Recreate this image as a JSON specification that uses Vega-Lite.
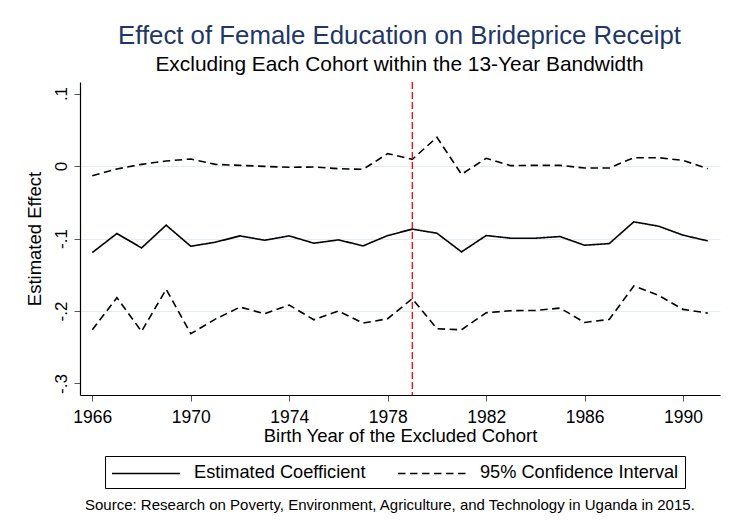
{
  "$schema": "https://vega.github.io/schema/vega-lite/v6.json",
  "background": "white",
  "autosize": {"type": "pad"},
  "padding": {"left": 25, "top": 22, "right": 9, "bottom": 4},
  "title": {
    "text": "Effect of Female Education on Brideprice Receipt",
    "subtitle": "Excluding Each Cohort within the 13-Year Bandwidth",
    "anchor": "middle",
    "frame": "bounds",
    "dx": 27,
    "font": "Liberation Sans",
    "fontSize": 25.8,
    "fontWeight": "normal",
    "color": "#1f3768",
    "subtitleFont": "Liberation Sans",
    "subtitleFontSize": 20.9,
    "subtitleColor": "black",
    "subtitlePadding": 5,
    "offset": 5
  },
  "datasets": {
    "est": [
      {"year": 1966, "coef": -0.1194, "lower": -0.2259, "upper": -0.0134},
      {"year": 1967, "coef": -0.0931, "lower": -0.1816, "upper": -0.0041},
      {"year": 1968, "coef": -0.1130, "lower": -0.2282, "upper": 0.0023},
      {"year": 1969, "coef": -0.0816, "lower": -0.1701, "upper": 0.0069},
      {"year": 1970, "coef": -0.1107, "lower": -0.2314, "upper": 0.0097},
      {"year": 1971, "coef": -0.1051, "lower": -0.2112, "upper": 0.0023},
      {"year": 1972, "coef": -0.0964, "lower": -0.1946, "upper": 0.0009},
      {"year": 1973, "coef": -0.1024, "lower": -0.2038, "upper": -0.0005},
      {"year": 1974, "coef": -0.0964, "lower": -0.1918, "upper": -0.0018},
      {"year": 1975, "coef": -0.1065, "lower": -0.2121, "upper": -0.0014},
      {"year": 1976, "coef": -0.1019, "lower": -0.2001, "upper": -0.0037},
      {"year": 1977, "coef": -0.1102, "lower": -0.2167, "upper": -0.0046},
      {"year": 1978, "coef": -0.0959, "lower": -0.2107, "upper": 0.0171},
      {"year": 1979, "coef": -0.0871, "lower": -0.1830, "upper": 0.0092},
      {"year": 1980, "coef": -0.0927, "lower": -0.2245, "upper": 0.0396},
      {"year": 1981, "coef": -0.1185, "lower": -0.2259, "upper": -0.0115},
      {"year": 1982, "coef": -0.0959, "lower": -0.2024, "upper": 0.0106},
      {"year": 1983, "coef": -0.0996, "lower": -0.1996, "upper": 0.0005},
      {"year": 1984, "coef": -0.0996, "lower": -0.1992, "upper": 0.0009},
      {"year": 1985, "coef": -0.0973, "lower": -0.1960, "upper": 0.0009},
      {"year": 1986, "coef": -0.1093, "lower": -0.2158, "upper": -0.0028},
      {"year": 1987, "coef": -0.1070, "lower": -0.2116, "upper": -0.0028},
      {"year": 1988, "coef": -0.0770, "lower": -0.1655, "upper": 0.0115},
      {"year": 1989, "coef": -0.0830, "lower": -0.1784, "upper": 0.0115},
      {"year": 1990, "coef": -0.0954, "lower": -0.1978, "upper": 0.0078},
      {"year": 1991, "coef": -0.1033, "lower": -0.2029, "upper": -0.0037}
    ],
    "cutoff": [{"year": 1979}]
  },
  "vconcat": [
    {
      "width": 640,
      "height": 313,
      "title": {
        "text": "Source: Research on Poverty, Environment, Agriculture, and Technology in Uganda in 2015.",
        "orient": "bottom",
        "anchor": "start",
        "frame": "group",
        "dx": 5,
        "offset": 9,
        "font": "Liberation Sans",
        "fontSize": 15,
        "fontWeight": "normal",
        "color": "black"
      },
      "encoding": {
        "x": {
          "field": "year",
          "type": "quantitative",
          "scale": {"domain": [1965.5, 1991.5], "nice": false, "zero": false},
          "axis": {
            "title": "Birth Year of the Excluded Cohort",
            "values": [1966, 1970, 1974, 1978, 1982, 1986, 1990],
            "format": "d",
            "grid": false
          }
        }
      },
      "layer": [
        {
          "data": {"name": "est"},
          "mark": {"type": "line", "color": "black", "strokeWidth": 1.6},
          "encoding": {
            "y": {
              "field": "coef",
              "type": "quantitative",
              "scale": {"domain": [-0.3159, 0.1159], "nice": false, "zero": false},
              "axis": {
                "title": "Estimated Effect",
                "values": [-0.3, -0.2, -0.1, 0, 0.1],
                "labelAngle": -90,
                "labelExpr": "datum.value > 0.05 ? '.1' : datum.value > -0.05 ? '0' : datum.value > -0.15 ? '-.1' : datum.value > -0.25 ? '-.2' : '-.3'",
                "grid": true,
                "gridColor": "#e3ecf0",
                "gridWidth": 1.2,
                "gridOpacity": {"condition": {"test": "datum.value > 0.05 || datum.value < -0.25", "value": 0}, "value": 1}
              }
            },
            "strokeDash": {
              "datum": "Estimated Coefficient",
              "scale": {
                "domain": ["Estimated Coefficient", "95% Confidence Interval"],
                "range": [[1, 0], [7.5, 4.5]]
              },
              "legend": {
                "orient": "none",
                "legendX": 25,
                "legendY": 374,
                "direction": "horizontal",
                "columns": 2,
                "title": null,
                "symbolType": "M-3.4,0H3.4",
                "symbolSize": 400,
                "symbolOffset": 24,
                "symbolStrokeWidth": 1.5,
                "symbolStrokeColor": "black",
                "labelFont": "Liberation Sans",
                "labelFontSize": 18.2,
                "labelColor": "black",
                "labelOffset": 37,
                "labelLimit": 400,
                "columnPadding": 29,
                "padding": 6,
                "strokeColor": "black",
                "fillColor": "white"
              }
            }
          }
        },
        {
          "data": {"name": "est"},
          "mark": {"type": "line", "color": "black", "strokeWidth": 1.6},
          "encoding": {
            "y": {"field": "lower", "type": "quantitative"},
            "strokeDash": {"datum": "95% Confidence Interval"}
          }
        },
        {
          "data": {"name": "est"},
          "mark": {"type": "line", "color": "black", "strokeWidth": 1.6},
          "encoding": {
            "y": {"field": "upper", "type": "quantitative"},
            "strokeDash": {"datum": "95% Confidence Interval"}
          }
        },
        {
          "data": {"name": "cutoff"},
          "mark": {"type": "rule", "color": "#ff0000", "strokeWidth": 1.3, "strokeDash": [7, 3]},
          "encoding": {}
        }
      ]
    }
  ],
  "resolve": {"scale": {"strokeDash": "independent"}, "legend": {"strokeDash": "independent"}},
  "config": {
    "font": "Liberation Sans",
    "view": {"stroke": null},
    "axis": {
      "domainColor": "black",
      "domainWidth": 1.2,
      "tickColor": "#555555",
      "tickSize": 6,
      "labelFont": "Liberation Sans",
      "labelColor": "black",
      "titleFont": "Liberation Sans",
      "titleColor": "black",
      "titleFontWeight": "normal"
    },
    "axisX": {"labelFontSize": 17.5, "labelPadding": 7, "titleFontSize": 18.5, "titlePadding": 1},
    "axisY": {"labelFontSize": 17, "labelPadding": 4, "titleFontSize": 18.5, "titlePadding": 8}
  }
}
